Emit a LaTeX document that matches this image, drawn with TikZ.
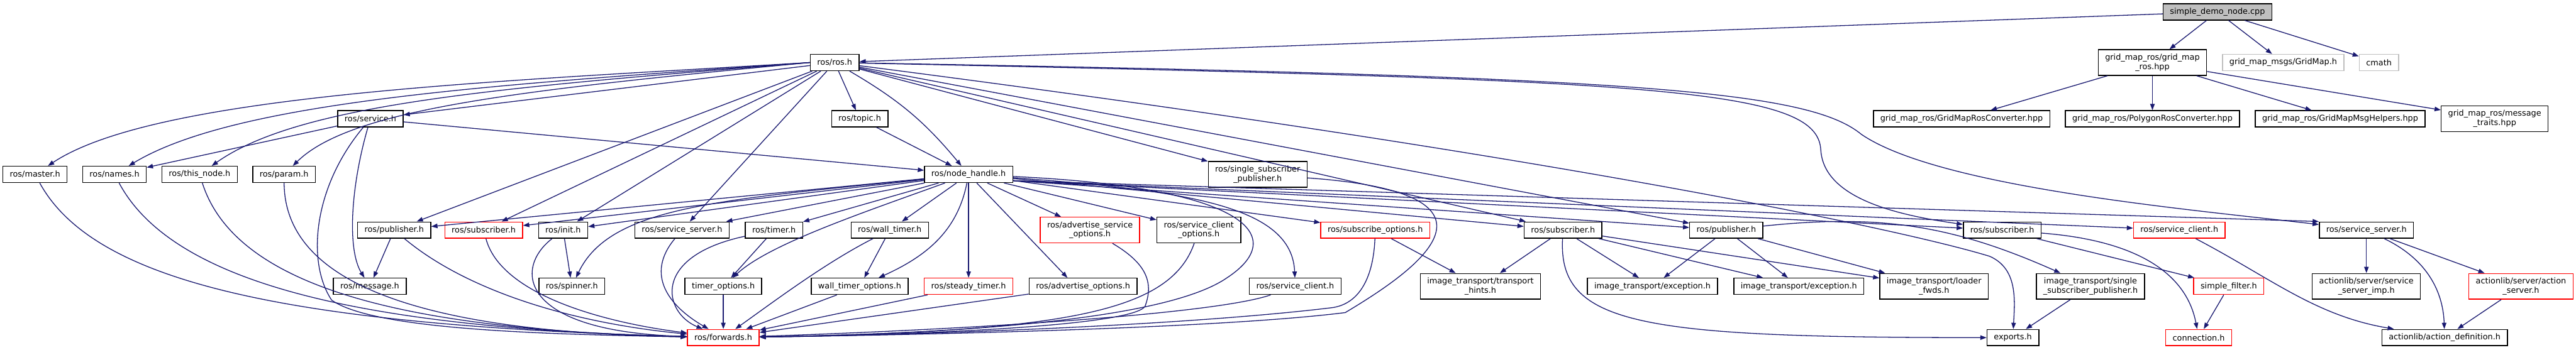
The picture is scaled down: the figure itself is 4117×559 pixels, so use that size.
\documentclass[tikz,border=0pt]{standalone}
\usepackage{fontspec}
\usepackage{tikz}
\usetikzlibrary{arrows.meta}
\newfontfamily\dxfont{DejaVu Sans}
\definecolor{edgeblue}{RGB}{25, 25, 112}
\definecolor{rootgray}{RGB}{191, 191, 191}
\definecolor{trunc}{RGB}{255, 0, 0}
\definecolor{nolink}{RGB}{191, 191, 191}

\begin{document}
\begin{tikzpicture}[
   x=0.5pt, y=0.5pt,
   file/.style={rectangle, draw=black, fill=white, line width=0.7pt,
                font=\dxfont\fontsize{6.45}{7.5}\selectfont, align=center,
                inner xsep=5.5pt, inner ysep=0pt, minimum height=13pt},
   twoline/.style={minimum height=20.5pt},
   root/.style={file, fill=rootgray},
   cut/.style={file, draw=trunc},
   ext/.style={file, draw=nolink},
   inc/.style={->, >={Triangle[length=5pt, width=3.6pt]}, color=edgeblue,
               line width=0.65pt}
  ]

  % Page
  \useasboundingbox (0, 0) rectangle (4117, -559);

  % Row 0 and 1
  \node (sdn) at (3544, -19) [root] {simple\_demo\_node.cpp};
  \node (rosh) at (1334, -100) [file] {ros/ros.h};
  \node (gmros) at (3440, -100) [file, twoline] {grid\_map\_ros/grid\_map\\\_ros.hpp};
  \node (gmmsg) at (3649, -100) [ext] {grid\_map\_msgs/GridMap.h};
  \node (cmath) at (3802, -100) [ext] {cmath};

  % Row 2
  \node (service) at (592, -190) [file] {ros/service.h};
  \node (topic) at (1374, -190) [file] {ros/topic.h};
  \node (gmconv) at (3135, -190) [file] {grid\_map\_ros/GridMapRosConverter.hpp};
  \node (gmpoly) at (3440, -190) [file] {grid\_map\_ros/PolygonRosConverter.hpp};
  \node (gmhelp) at (3740, -190) [file] {grid\_map\_ros/GridMapMsgHelpers.hpp};
  \node (gmtraits) at (3987, -190) [file, twoline] {grid\_map\_ros/message\\\_traits.hpp};

  % Row 3
  \node (master) at (56, -279) [file] {ros/master.h};
  \node (names) at (183, -279) [file] {ros/names.h};
  \node (thisnode) at (319, -279) [file] {ros/this\_node.h};
  \node (param) at (454, -279) [file] {ros/param.h};
  \node (nh) at (1548, -279) [file] {ros/node\_handle.h};
  \node (ssp) at (2010, -279) [file, twoline] {ros/single\_subscriber\\\_publisher.h};

  % Row 4
  \node (pubL) at (630, -368) [file] {ros/publisher.h};
  \node (subL) at (773, -368) [cut] {ros/subscriber.h};
  \node (init) at (900, -368) [file] {ros/init.h};
  \node (srvsL) at (1090, -368) [file] {ros/service\_server.h};
  \node (timer) at (1237, -368) [file] {ros/timer.h};
  \node (walltimer) at (1422, -368) [file] {ros/wall\_timer.h};
  \node (advsrvopt) at (1742, -368) [cut, twoline] {ros/advertise\_service\\\_options.h};
  \node (srvcliopt) at (1916, -368) [file, twoline] {ros/service\_client\\\_options.h};
  \node (subopt) at (2198, -368) [cut] {ros/subscribe\_options.h};
  \node (subA) at (2498, -368) [file] {ros/subscriber.h};
  \node (pubB) at (2759, -368) [file] {ros/publisher.h};
  \node (subB) at (3200, -368) [file] {ros/subscriber.h};
  \node (srvcliR) at (3483, -368) [cut] {ros/service\_client.h};
  \node (srvsR) at (3782, -368) [file] {ros/service\_server.h};

  % Row 5
  \node (message) at (591, -458) [file] {ros/message.h};
  \node (spinner) at (914, -458) [file] {ros/spinner.h};
  \node (timeropt) at (1156, -458) [file] {timer\_options.h};
  \node (walltimeropt) at (1374, -458) [file] {wall\_timer\_options.h};
  \node (steady) at (1548, -458) [cut] {ros/steady\_timer.h};
  \node (advopt) at (1731, -458) [file] {ros/advertise\_options.h};
  \node (srvcli) at (2070, -458) [file] {ros/service\_client.h};
  \node (hints) at (2366, -458) [file, twoline] {image\_transport/transport\\\_hints.h};
  \node (exc1) at (2641, -458) [file] {image\_transport/exception.h};
  \node (exc2) at (2875, -458) [file] {image\_transport/exception.h};
  \node (loader) at (3091, -458) [file, twoline] {image\_transport/loader\\\_fwds.h};
  \node (itssp) at (3341, -458) [file, twoline] {image\_transport/single\\\_subscriber\_publisher.h};
  \node (sfilter) at (3562, -458) [cut] {simple\_filter.h};
  \node (ssimp) at (3782, -458) [file, twoline] {actionlib/server/service\\\_server\_imp.h};
  \node (actsrv) at (4029, -458) [cut, twoline] {actionlib/server/action\\\_server.h};

  % Row 6
  \node (fwd) at (1156, -540) [cut] {ros/forwards.h};
  \node (exports) at (3217, -540) [file] {exports.h};
  \node (conn) at (3514, -540) [cut] {connection.h};
  \node (actdef) at (3907, -540) [file] {actionlib/action\_definition.h};

  % Straight includes
  \foreach \B/\E in {sdn/rosh, sdn/gmros, sdn/gmmsg, sdn/cmath,
                     gmros/gmconv, gmros/gmpoly, gmros/gmhelp, gmros/gmtraits,
                     rosh/service, rosh/topic, rosh/pubL, rosh/subL, rosh/init,
                     rosh/srvsL, rosh/ssp, rosh/subA, rosh/pubB, topic/nh,
                     service/names, service/nh, pubL/message, init/spinner,
                     nh/pubL, nh/subL, nh/init, nh/srvsL, nh/timer, nh/walltimer,
                     nh/steady, nh/advsrvopt, nh/srvcliopt, nh/subopt, nh/subA,
                     timer/timeropt, timeropt/fwd, walltimer/walltimeropt,
                     walltimeropt/fwd, steady/fwd, advopt/fwd,
                     subopt/hints, subA/hints, subA/exc1, subA/exc2, subA/loader,
                     pubB/exc1, pubB/exc2, pubB/loader, itssp/exports,
                     subB/sfilter, sfilter/conn, srvsR/ssimp, srvsR/actsrv,
                     actsrv/actdef} {
    \draw[inc] (\B) -- (\E);
  }
  \draw[inc] (rosh) to[bend left=10] (nh);
  \draw[inc] (nh) -- ([xshift=-12.5pt]advopt.north);
  \foreach \E in {pubB, subB, srvcliR} {
    \draw[inc] ([yshift=-5pt]nh.east) -- (\E);
  }
  \draw[inc] ([yshift=-5pt]nh.east) -- (srvsR.north west);
  \draw[inc] (pubB) to[bend left=15] (itssp);

  % ros.h fan to the left
  \draw[inc] (rosh.west) .. controls (800, -130) and (250, -150) .. (master);
  \draw[inc] (rosh.west) .. controls (800, -135) and (380, -160) .. (names);
  \draw[inc] (rosh.west) .. controls (800, -140) and (480, -165) .. (thisnode);
  \draw[inc] (rosh.west) .. controls (820, -145) and (560, -175) .. (param);
  \draw[inc] (service) .. controls (560, -300) and (555, -400) .. (message);

  % ros.h long ones to the right
  \draw[inc] (rosh) .. controls (2650, -128) and (2905, -140) .. (2910, -240)
             .. controls (2915, -320) and (3040, -345) .. (subB);
  \draw[inc] (rosh) .. controls (2620, -122) and (2890, -145) .. (2975, -215)
             .. controls (3100, -300) and (3500, -335) .. (srvsR);
  \draw[inc] (rosh) .. controls (2500, -250) and (3050, -370) .. (3180, -410)
             .. controls (3225, -430) and (3220, -480) .. (exports);

  % node_handle.h curves
  \draw[inc] (nh) .. controls (1150, -320) and (975, -330) .. (spinner);
  \draw[inc] (nh) .. controls (1380, -340) and (1230, -390) .. (timeropt);
  \draw[inc] (nh) .. controls (1530, -370) and (1480, -410) .. (walltimeropt);
  \draw[inc] (nh) .. controls (1900, -305) and (2065, -330) .. (srvcli);
  \draw[inc] (nh) .. controls (2000, -300) and (2060, -380) .. (1960, -445)
             .. controls (1850, -520) and (1450, -535) .. (fwd);

  % into forwards.h
  \draw[inc] (master) .. controls (150, -450) and (450, -520) .. (fwd);
  \draw[inc] (names) .. controls (280, -460) and (600, -525) .. (fwd);
  \draw[inc] (thisnode) .. controls (380, -470) and (680, -528) .. (fwd);
  \draw[inc] (param) .. controls (455, -470) and (720, -532) .. (fwd);
  \draw[inc] (service) .. controls (500, -300) and (490, -420) .. (530, -480)
             .. controls (600, -530) and (900, -535) .. (fwd);
  \draw[inc] (pubL) .. controls (740, -460) and (900, -515) .. (fwd);
  \draw[inc] (subL) .. controls (800, -470) and (960, -515) .. (fwd);
  \draw[inc] (init) .. controls (820, -430) and (830, -530) .. (fwd);
  \draw[inc] (srvsL) .. controls (1030, -440) and (1070, -490) .. (fwd);
  \draw[inc] (timer) .. controls (1040, -410) and (1060, -500) .. (fwd);
  \draw[inc] (walltimer) .. controls (1320, -420) and (1240, -480) .. (fwd);
  \draw[inc] (advsrvopt) .. controls (1830, -420) and (1845, -450) .. (1830, -490)
             .. controls (1810, -520) and (1500, -535) .. (fwd);
  \draw[inc] (srvcliopt) .. controls (1870, -500) and (1700, -530) .. (fwd);
  \draw[inc] (srvcli) .. controls (1950, -500) and (1600, -525) .. (fwd);
  \draw[inc] (subopt) .. controls (2195, -440) and (2175, -485) .. (2130, -492)
             .. controls (1900, -520) and (1500, -535) .. (fwd);
  \draw[inc] (ssp) .. controls (2450, -310) and (2250, -440) .. (2150, -500)
             .. controls (1950, -525) and (1500, -535) .. (fwd);

  % lower right
  \draw[inc] (subA) .. controls (2490, -520) and (2620, -540) .. (exports);
  \draw[inc] (subB) .. controls (3420, -385) and (3495, -440) .. (conn);
  \draw[inc] (srvcliR) .. controls (3630, -445) and (3700, -505) .. (actdef);
  \draw[inc] (srvsR) .. controls (3890, -420) and (3905, -480) .. (actdef);

\end{tikzpicture}
\end{document}
